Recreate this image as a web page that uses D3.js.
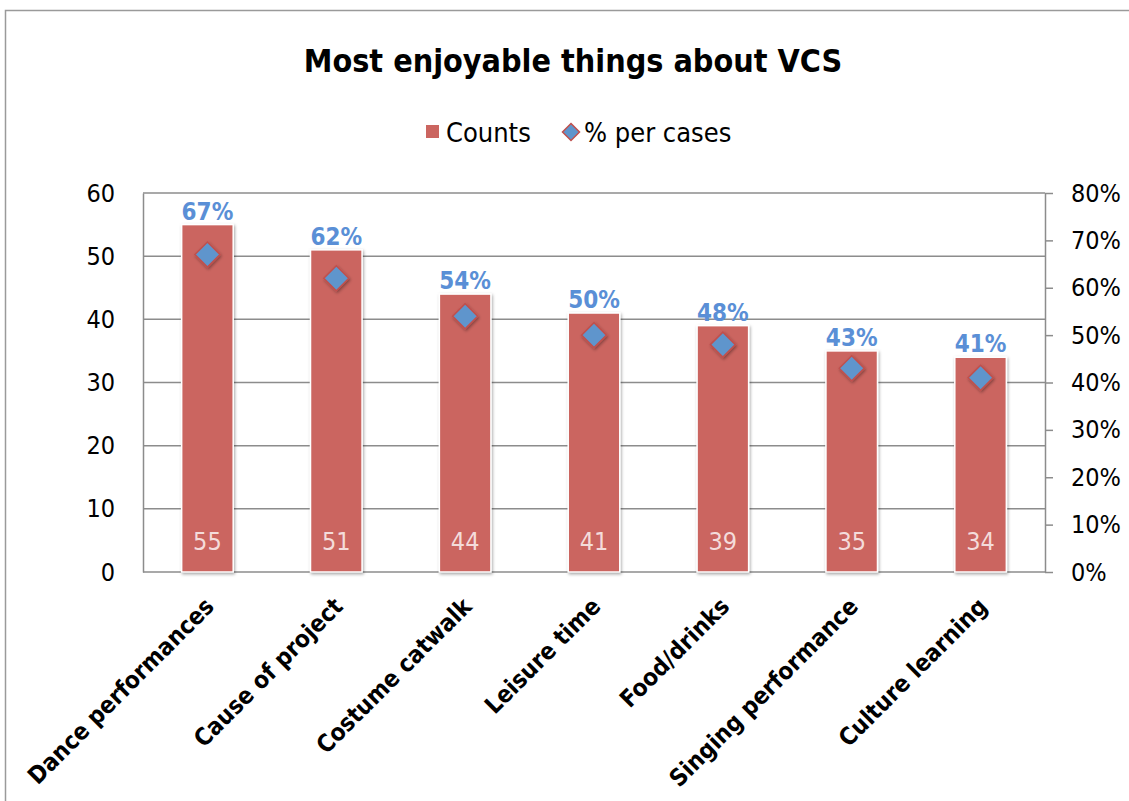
<!DOCTYPE html>
<html>
<head>
<meta charset="utf-8">
<script src="https://cdn.jsdelivr.net/npm/d3@7"></script>
<style>
  body { margin: 0; background: #fff; }
  svg text { font-family: "DejaVu Sans Condensed", "DejaVu Sans", sans-serif; }
</style>
</head>
<body>
<svg id="chart" width="1129" height="801"></svg>
<script>
// chart data
const categories = ['Dance performances', 'Cause of project', 'Costume catwalk', 'Leisure time',
  'Food/drinks', 'Singing performance', 'Culture learning'];
const counts = [55, 51, 44, 41, 39, 35, 34];
const percents = [0.67, 0.62, 0.54, 0.50, 0.48, 0.43, 0.41];
const countTicks = [0, 10, 20, 30, 40, 50, 60];
const pctTicks = [0, 0.1, 0.2, 0.3, 0.4, 0.5, 0.6, 0.7, 0.8];

const barColor = '#CB6560';
const diamondColor = '#5E95CC';
const labelBlue = '#5A8FD6';

const svg = d3.select('#chart');
const margin = { left: 143, right: 1045, top: 193, bottom: 572 };

const defs = svg.append('defs');
const shadow = defs.append('filter').attr('id', 'shadow')
  .attr('x', '-30%').attr('y', '-30%').attr('width', '160%').attr('height', '160%');
shadow.append('feDropShadow').attr('dx', 1).attr('dy', 1.5).attr('stdDeviation', 1.5)
  .attr('flood-color', '#000').attr('flood-opacity', 0.35);

// outer border
svg.append('rect')
  .attr('x', 5.5).attr('y', 10.5).attr('width', 1140).attr('height', 820)
  .attr('fill', 'none').attr('stroke', '#9a9a9a').attr('stroke-width', 1.5);

const x = d3.scaleBand().domain(categories).range([margin.left, margin.right])
  .paddingInner(0.6).paddingOuter(0.3);
const y = d3.scaleLinear().domain([0, 60]).range([margin.bottom, margin.top]);
const y2 = d3.scaleLinear().domain([0, 0.8]).range([margin.bottom, margin.top]);
const cx = d => x(d) + x.bandwidth() / 2;

// gridlines
svg.append('g').selectAll('line').data(countTicks).join('line')
  .attr('x1', margin.left).attr('x2', margin.right)
  .attr('y1', d => y(d)).attr('y2', d => y(d))
  .attr('stroke', '#8c8c8c').attr('stroke-width', 1.5);

// left axis
const leftAxis = svg.append('g').attr('transform', `translate(${margin.left},0)`)
  .call(d3.axisLeft(y).tickValues(countTicks).tickSize(0).tickPadding(28));
leftAxis.select('.domain').attr('stroke', '#8c8c8c').attr('stroke-width', 1.5);
leftAxis.selectAll('text').attr('font-size', 25).attr('fill', '#000');

// right axis
const rightAxis = svg.append('g').attr('transform', `translate(${margin.right},0)`)
  .call(d3.axisRight(y2).tickValues(pctTicks).tickFormat(d3.format('.0%'))
    .tickSize(8).tickSizeOuter(0).tickPadding(18));
rightAxis.select('.domain').attr('stroke', '#8c8c8c').attr('stroke-width', 1.5);
rightAxis.selectAll('line').attr('stroke', '#8c8c8c').attr('stroke-width', 1.5);
rightAxis.selectAll('text').attr('font-size', 25).attr('fill', '#000');

// bars
svg.append('g').selectAll('rect').data(counts).join('rect')
  .attr('x', (d, i) => x(categories[i]))
  .attr('y', d => y(d))
  .attr('width', x.bandwidth())
  .attr('height', d => y(0) - y(d))
  .attr('fill', barColor)
  .attr('stroke', '#fff').attr('stroke-width', 1.5)
  .attr('filter', 'url(#shadow)');

// count labels inside bars
svg.append('g').selectAll('text').data(counts).join('text')
  .attr('x', (d, i) => cx(categories[i]))
  .attr('y', y(0) - 22)
  .attr('text-anchor', 'middle')
  .attr('font-size', 25)
  .attr('fill', '#F4DCDB')
  .text(d => d);

// diamonds
const ds = 12.5;
svg.append('g').selectAll('path').data(percents).join('path')
  .attr('transform', (d, i) => `translate(${cx(categories[i])},${y2(d)})`)
  .attr('d', `M0,${-ds}L${ds},0L0,${ds}L${-ds},0Z`)
  .attr('fill', diamondColor)
  .attr('stroke', '#C0504D').attr('stroke-width', 1.5)
  .attr('filter', 'url(#shadow)');

// percent labels above bars
svg.append('g').selectAll('text').data(percents).join('text')
  .attr('x', (d, i) => cx(categories[i]))
  .attr('y', (d, i) => y(counts[i]) - 5)
  .attr('text-anchor', 'middle')
  .attr('font-size', 24).attr('font-weight', 'bold')
  .attr('fill', labelBlue)
  .text(d => d3.format('.0%')(d));

// category labels
svg.append('g').selectAll('text').data(categories).join('text')
  .attr('transform', d => `translate(${cx(d) + 8},${margin.bottom + 36}) rotate(-45)`)
  .attr('text-anchor', 'end')
  .attr('font-size', 24).attr('font-weight', 'bold')
  .attr('fill', '#000')
  .text(d => d);

// title
svg.append('text')
  .attr('x', 573).attr('y', 72)
  .attr('text-anchor', 'middle')
  .attr('font-size', 32).attr('font-weight', 'bold')
  .text('Most enjoyable things about VCS');

// legend
const legend = svg.append('g');
legend.append('rect').attr('x', 426).attr('y', 125).attr('width', 13).attr('height', 13).attr('fill', barColor);
legend.append('text').attr('x', 446).attr('y', 142).attr('font-size', 27).text('Counts');
legend.append('path')
  .attr('transform', 'translate(571,132)')
  .attr('d', 'M0,-8.5L8.5,0L0,8.5L-8.5,0Z')
  .attr('fill', diamondColor).attr('stroke', '#C0504D').attr('stroke-width', 1.5);
legend.append('text').attr('x', 584).attr('y', 142).attr('font-size', 27).text('% per cases');
</script>
</body>
</html>
